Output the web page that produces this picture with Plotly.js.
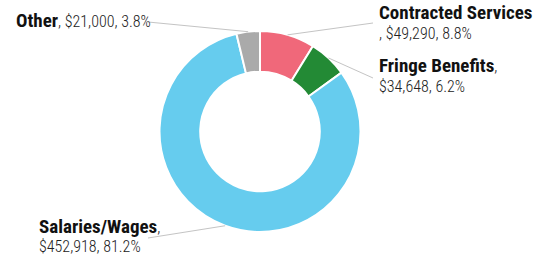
<!DOCTYPE html>
<html><head><meta charset="utf-8">
<script src="https://cdn.plot.ly/plotly-3.0.1.min.js"></script>
<style>html,body{margin:0;padding:0;background:#fff}#c{width:551px;height:265px}</style>
</head><body><div id="c"></div>
<script>
const categories = ["Contracted Services", "Fringe Benefits", "Salaries/Wages", "Other"];
const values = [49290, 34648, 452918, 21000];
const percents = ["8.8%", "6.2%", "81.2%", "3.8%"];
const colors = ["#f0687a", "#238a35", "#66ccee", "#aaaaaa"];

const W = 551, H = 265;
const cx = 260, cy = 131.5, R = 100.5;
const FONT = "'Roboto Condensed','DejaVu Sans Condensed',sans-serif";

function fmt(v){ return "$" + v.toLocaleString("en-US"); }

const labelPos = [
  {x: 377, y1: 13, y2: 34, anchorX: 373, anchorY: 23, split: "before"},
  {x: 377, y1: 66, y2: 87, anchorX: 373, anchorY: 78, split: "after"},
  {x: 37,  y1: 226, y2: 246, anchorX: 148, anchorY: 238, split: "after"},
  {x: 14,  y1: 21, y2: null, anchorX: 148, anchorY: 22, split: "none"}
];

const px = x => x / W, py = y => 1 - y / H;
const annotations = [], shapes = [];
const total = values.reduce((a,b)=>a+b,0);
const lite = t => "<span style='font-size:16px;font-weight:300;color:#222'>" + t + "</span>";
let cum = 0;
categories.forEach((c, i) => {
  const mid = (cum + values[i] / 2) / total;
  cum += values[i];
  const ang = mid * 2 * Math.PI;
  const sx = cx + R * Math.sin(ang), sy = cy - R * Math.cos(ang);
  const L = labelPos[i];
  shapes.push({type: "line", xref: "paper", yref: "paper",
    x0: px(sx), y0: py(sy), x1: px(L.anchorX), y1: py(L.anchorY),
    line: {color: "#c4c4c4", width: 1}});
  const bold = "<b>" + c + "</b>";
  const val = fmt(values[i]) + ", " + percents[i];
  let lines;
  if (L.split === "before") lines = [bold, lite(", " + val)];
  else if (L.split === "after") lines = [bold + lite(","), lite(val)];
  else lines = [bold + lite(", " + val)];
  lines.forEach((t, k) => {
    annotations.push({xref: "paper", yref: "paper", x: px(L.x), y: py(k === 0 ? L.y1 : L.y2),
      xanchor: "left", yanchor: "middle", showarrow: false, text: t,
      font: {family: FONT, size: 19, color: "#111"}});
  });
});

const data = [{
  type: "pie", labels: categories, values: values, sort: false, direction: "clockwise",
  rotation: 0, hole: 0.595, textinfo: "none", hoverinfo: "none",
  marker: {colors: colors, line: {color: "#ffffff", width: 2}},
  domain: {x: [px(cx - R), px(cx + R)], y: [py(cy + R), py(cy - R)]}
}];
const layout = {width: W, height: H, margin: {l:0, r:0, t:0, b:0}, showlegend: false,
  paper_bgcolor: "#fff", annotations: annotations, shapes: shapes};
Plotly.newPlot("c", data, layout, {staticPlot: true, displayModeBar: false});
</script></body></html>
